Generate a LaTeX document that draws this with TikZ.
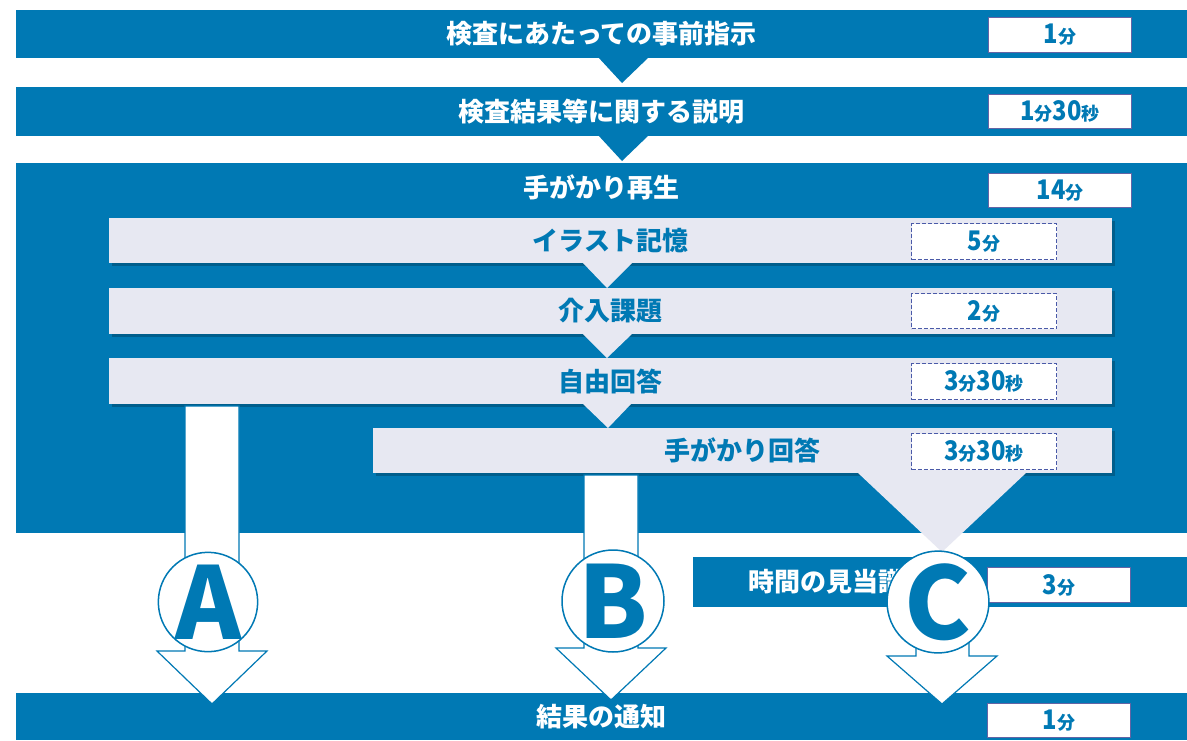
\documentclass[tikz,border=0pt]{standalone}
\usepackage{fontspec}
\usepackage{graphicx}
\newfontfamily\jp{Noto Sans CJK JP}
\usetikzlibrary{shadows}
\definecolor{mblue}{RGB}{0,121,180}
\definecolor{lgray}{RGB}{231,232,242}
\definecolor{tbord}{RGB}{100,100,165}
\definecolor{dbord}{RGB}{74,90,168}
\newcommand\dgt[1]{\scalebox{0.88}[1]{\fontsize{27}{27}\selectfont #1}}
\newcommand\kjt[1]{{\fontsize{18}{18}\selectfont #1}}
\begin{document}
\begin{tikzpicture}[x=1pt,y=-1pt,
  bar/.style={fill=mblue, draw=none, inner sep=0pt, outer sep=0pt, anchor=north west,
    text=white, font=\jp\bfseries\fontsize{26}{26}\selectfont},
  lbox/.style={fill=lgray, draw=none, inner sep=0pt, outer sep=0pt, anchor=north west,
    text=mblue, font=\jp\bfseries\fontsize{26}{26}\selectfont,
    drop shadow={shadow xshift=3pt, shadow yshift=-3pt, opacity=0.22, fill=black}},
  wlabel/.style={text=white, inner sep=0pt, font=\jp\bfseries\fontsize{26}{26}\selectfont},
  tbox/.style={fill=white, draw=tbord, line width=1pt, inner sep=0pt, anchor=north west,
    minimum width=143pt, minimum height=35pt, text=mblue, font=\jp\bfseries},
  dbox/.style={fill=white, draw=dbord, dash pattern=on 4pt off 2pt, line width=1.3pt, inner sep=0pt, anchor=north west,
    minimum width=145pt, minimum height=36pt, text=mblue, font=\jp\bfseries},
  darrow/.style={fill=mblue, draw=none},
  lptr/.style={fill=lgray, draw=none},
  wa/.style={fill=white, draw=mblue, line width=1.2pt, line join=miter},
  circ/.style={circle, draw=mblue, line width=1.5pt, fill=white, minimum size=98pt, inner sep=0pt,
    text=mblue, font=\jp\bfseries\fontsize{100}{100}\selectfont}
]
\useasboundingbox (0,0) rectangle (1187,740);
\fill[white] (0,0) rectangle (1187,740);

% dark bars
\node[bar, minimum width=1171pt, minimum height=48pt] (b1) at (16,10) {検査にあたっての事前指示};
\node[bar, minimum width=1171pt, minimum height=49pt] (b2) at (16,87) {検査結果等に関する説明};
\node[bar, minimum width=1171pt, minimum height=370pt] (b3) at (16,163) {};
\node[bar, minimum width=1171pt, minimum height=47pt] (b5) at (16,693) {結果の通知};
\node[bar, minimum width=494pt, minimum height=50pt] (b4) at (693,557) {};
\node[wlabel] (b3t) at (601,187) {手がかり再生};
\node[wlabel] (b4t) at (826,582) {時間の見当識};

% dark pointers
\fill[darrow] (598,57) -- (622,83) -- (649,57) -- cycle;
\fill[darrow] (598,135) -- (622,161) -- (649,135) -- cycle;

% light boxes
\node[lbox, minimum width=1003pt, minimum height=45pt] (l1) at (109,218) {イラスト記憶};
\node[lbox, minimum width=1003pt, minimum height=46pt] (l2) at (109,288) {介入課題};
\node[lbox, minimum width=1003pt, minimum height=46pt] (l3) at (109,358) {自由回答};
\node[lbox, minimum width=739pt, minimum height=45pt] (l4) at (373,428) {};
\node[text=mblue, inner sep=0pt, font=\jp\bfseries\fontsize{26}{26}\selectfont] (l4t) at (742,450) {手がかり回答};

% light pointers
\fill[lptr] (582,262) -- (607,288) -- (633,262) -- cycle;
\fill[lptr] (582,333) -- (607,358) -- (633,333) -- cycle;
\fill[lptr] (582,403) -- (608,428) -- (632,403) -- cycle;
\fill[lptr] (857,472) -- (942,552) -- (1027,472) -- cycle;

% time boxes
\node[tbox] (t1) at (988,17) {\dgt{1}\kjt{分}};
\node[tbox, minimum height=34pt] (t2) at (988,94) {\dgt{1}\kjt{分}\dgt{30}\kjt{秒}};
\node[tbox, minimum height=34pt] (t3) at (988,173) {\dgt{14}\kjt{分}};
\node[dbox] (d1) at (911,223) {\dgt{5}\kjt{分}};
\node[dbox, minimum height=35pt] (d2) at (911,293) {\dgt{2}\kjt{分}};
\node[dbox] (d3) at (911,363) {\dgt{3}\kjt{分}\dgt{30}\kjt{秒}};
\node[dbox] (d4) at (911,433) {\dgt{3}\kjt{分}\dgt{30}\kjt{秒}};
\node[tbox] (t4) at (987,567) {\dgt{3}\kjt{分}};
\node[tbox, minimum height=34pt] (t5) at (987,703) {\dgt{1}\kjt{分}};

% white block arrows
\draw[wa] (185,406) -- (185,651) -- (157,651) -- (212,704) -- (267,651) -- (239,651) -- (239,406) -- cycle;
\draw[wa] (584,475) -- (584,648) -- (556,648) -- (611,700) -- (666,648) -- (638,648) -- (638,475) -- cycle;
\draw[wa] (916,602) -- (916,656) -- (887,656) -- (942,704) -- (997,656) -- (969,656) -- (969,602) -- cycle;

% circles
\node[circ] (ca) at (208,602) {A};
\node[circ] (cb) at (613,601) {B};
\node[circ] (cc) at (938,602) {C};
\end{tikzpicture}
\end{document}
